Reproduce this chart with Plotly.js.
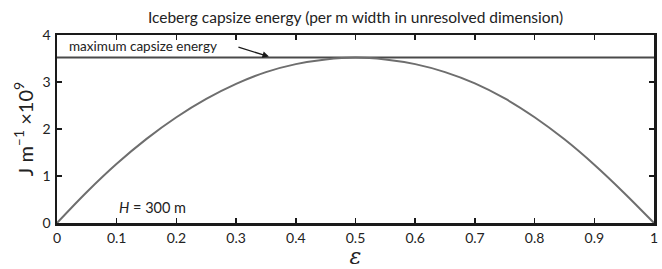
<!DOCTYPE html>
<html><head><meta charset="utf-8">
<script src="https://cdn.plot.ly/plotly-3.0.1.min.js"></script>
<style>body{margin:0;padding:0;background:#fff}#c{width:662px;height:269px}</style>
</head><body><div id="c"></div>
<script>
const eps = [0,0.05,0.1,0.15,0.2,0.25,0.3,0.35,0.4,0.45,0.5,0.55,0.6,0.65,0.7,0.75,0.8,0.85,0.9,0.95,1.0];
const energy = [0,0.66,1.26,1.79,2.25,2.64,2.96,3.21,3.38,3.48,3.52,3.48,3.38,3.21,2.97,2.65,2.25,1.78,1.24,0.64,0];
const maxEnergy = 3.52;
const maxX = [0,1];
const xTicks = [0,0.1,0.2,0.3,0.4,0.5,0.6,0.7,0.8,0.9,1];
const xTickText = ["0","0.1","0.2","0.3","0.4","0.5","0.6","0.7","0.8","0.9","1"];
const yTicks = [0,1,2,3,4];
const F = "Lato, 'Open Sans', sans-serif";
const traces = [
  {x: maxX, y: [maxEnergy, maxEnergy], mode:'lines', line:{color:'#4a4a4a', width:2}, hoverinfo:'skip'},
  {x: eps, y: energy, mode:'lines', line:{color:'#6e6e6e', width:2, shape:'spline'}, hoverinfo:'skip'}
];
const axBase = {showgrid:false, zeroline:false, showline:true, mirror:'ticks', linecolor:'#1a1a1a', linewidth:2.5,
  ticks:'inside', ticklen:5, tickwidth:1.5, tickcolor:'#1a1a1a', tickfont:{family:F, size:14, color:'#222'}};
const layout = {
  width:662, height:269, margin:{l:57, r:8, t:35, b:46}, showlegend:false,
  paper_bgcolor:'#fff', plot_bgcolor:'#fff',
  title:{text:'Iceberg capsize energy (per m width in unresolved dimension)', font:{family:F, size:15.5, color:'#222'}, x:0.537, xanchor:'center', y:0.935, yanchor:'middle'},
  xaxis: Object.assign({}, axBase, {range:[0,1], tickvals:xTicks, ticktext:xTickText, ticklabelstandoff:1,
    title:{text:'<i>ε</i>', font:{family:'DejaVu Serif, serif', size:22, color:'#222'}, standoff:0}}),
  yaxis: Object.assign({}, axBase, {range:[0,4], tickvals:yTicks, ticklabelstandoff:1,
    title:{text:'J m<sup>–1</sup> ×10<sup>9</sup>', font:{family:F, size:20, color:'#222'}, standoff:4}}),
  annotations:[
    {x:0.017, y:3.77, xref:'x', yref:'y', text:'maximum capsize energy', showarrow:false, xanchor:'left', yanchor:'middle', font:{family:F, size:13.5, color:'#222'}},
    {x:0.355, y:3.54, xref:'x', yref:'y', ax:-32, ay:-10, text:'', showarrow:true, arrowhead:2, arrowsize:1, arrowwidth:1.3, arrowcolor:'#1a1a1a'},
    {x:0.1, y:0.33, xref:'x', yref:'y', text:'<i>H</i> = 300 m', showarrow:false, xanchor:'left', yanchor:'middle', font:{family:F, size:14.5, color:'#222'}}
  ]
};
Plotly.newPlot('c', traces, layout, {staticPlot:true, displayModeBar:false});
</script></body></html>
